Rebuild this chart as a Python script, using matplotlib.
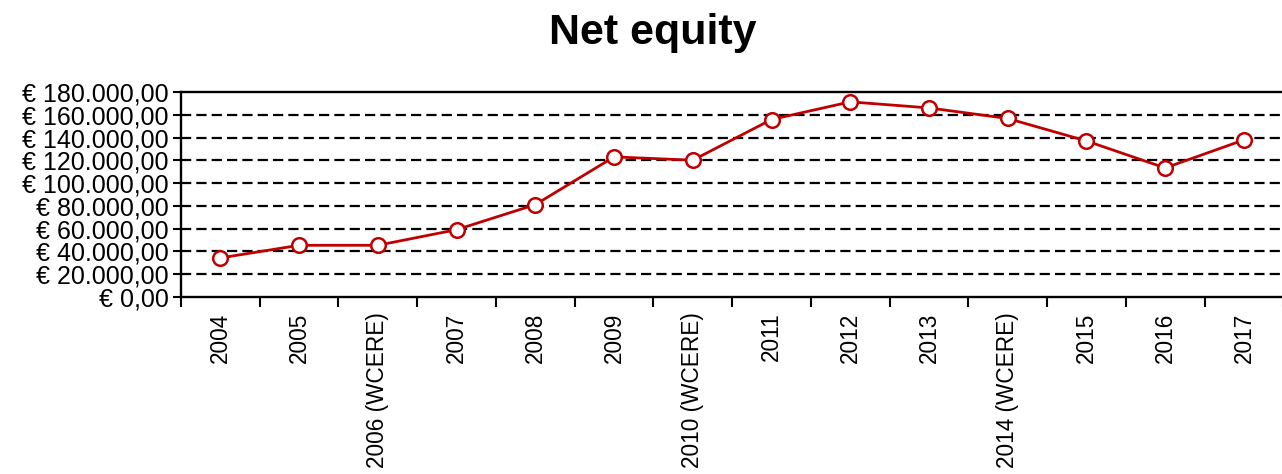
import numpy as np
import matplotlib.pyplot as plt
from matplotlib.ticker import FuncFormatter

# dati
anni = ['2004', '2005', '2006 (WCERE)', '2007', '2008', '2009', '2010 (WCERE)',
        '2011', '2012', '2013', '2014 (WCERE)', '2015', '2016', '2017']
patrimonio = [34300, 45400, 45400, 59100, 81100, 123000, 120100,
              155800, 171300, 166000, 156700, 137000, 113300, 137900]
yticks = np.arange(0, 180001, 20000)

plt.rcParams['font.family'] = ['Liberation Sans', 'DejaVu Sans']

fig = plt.figure(figsize=(12.82, 4.74), dpi=100)
ax = fig.add_axes([0.1412, 0.3734, 0.8598, 0.4326])

x = np.arange(len(anni))
ax.plot(x, patrimonio, color='#C00000', lw=2, marker='o', ms=10.5,
        mfc='white', mec='#C00000', mew=1.8, zorder=3)

ax.set_xlim(-0.5, len(anni) - 0.5)
ax.set_ylim(0, 180000)

ax.set_yticks(yticks)
ax.yaxis.set_major_formatter(FuncFormatter(
    lambda v, p: '€ ' + format(int(v), ',').replace(',', '.') + ',00'))
for v in yticks[1:-1]:
    ax.axhline(v, color='black', lw=1.6, ls=(0, (4.6, 2.3)), zorder=1)

ax.set_xticks(x)
ax.set_xticklabels(anni, rotation=90, va='top')
ax.set_xticks(np.arange(len(anni) + 1) - 0.5, minor=True)
ax.tick_params(axis='x', which='major', length=0, pad=11, labelsize=16.3)
ax.tick_params(axis='x', which='minor', length=7, width=1.5, direction='out')
ax.tick_params(axis='y', length=6, width=1.5, direction='out', pad=3, labelsize=18)

for s in ['left', 'bottom', 'top']:
    ax.spines[s].set_linewidth(1.7)
ax.spines['right'].set_visible(False)

fig.text(0.509, 0.93, 'Net equity', ha='center', va='center',
         fontsize=31, fontweight='bold')

fig.savefig('out.png', dpi=100)
